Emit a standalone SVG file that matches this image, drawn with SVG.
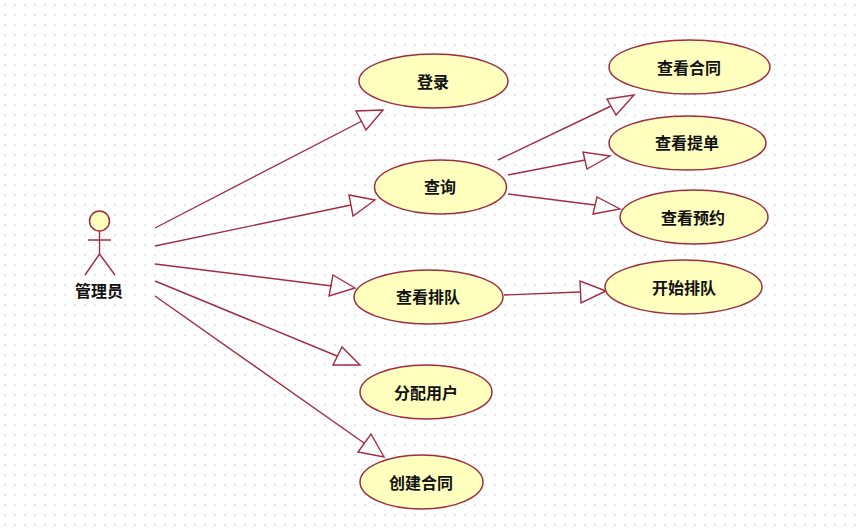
<svg xmlns="http://www.w3.org/2000/svg" width="862" height="531" viewBox="0 0 862 531">
<style>
.u{fill:#ffffbe;stroke:#a02c40;stroke-width:1.5}
.l{fill:none;stroke:#a02c40;stroke-width:1.4}
.h{fill:none;stroke:#a02c40;stroke-width:1.4;stroke-linejoin:miter}
text{font-family:"Noto Sans CJK SC",sans-serif;font-size:16px;font-weight:700;fill:#111;text-anchor:middle}
</style>
<defs>
<pattern id="grid" width="10" height="10" patternUnits="userSpaceOnUse">
<rect x="4" y="4" width="2" height="2" fill="#e6e6e6"/>
</pattern>
</defs>
<rect width="862" height="531" fill="#fff"/>
<rect width="862" height="531" fill="url(#grid)"/>
<g id="connectors">
<path class="l" d="M155 228L362 121"/><polygon class="h" points="383,110 356,111 366,130"/>
<path class="l" d="M155 246L351 205"/><polygon class="h" points="375,200 349,195 353,216"/>
<path class="l" d="M155 264L332 286"/><polygon class="h" points="355,288 333,275 329,296"/>
<path class="l" d="M155 281L337 356"/><polygon class="h" points="360,365 342,347 333,365"/>
<path class="l" d="M155 296L364 443"/><polygon class="h" points="384,457 371,434 358,452"/>
<path class="l" d="M498 160L611 106"/><polygon class="h" points="634,95 607,99 616,115"/>
<path class="l" d="M508 175L585 160"/><polygon class="h" points="610,156 583,152 587,169"/>
<path class="l" d="M508 194L595 205"/><polygon class="h" points="620,209 597,197 593,214"/>
<path class="l" d="M504 295L580 292"/><polygon class="h" points="606,291 580,281 581,303"/>
</g>
<g id="actor">
<circle class="u" cx="99.5" cy="221" r="10"/>
<path class="l" d="M99.5 231V254M88 240H111M99.5 254L85 275M99.5 254L115 275"/>
<text x="99" y="297">管理员</text>
</g>
<g id="login"><ellipse class="u" cx="433.5" cy="81" rx="74.5" ry="27"/><text x="433" y="88">登录</text></g>
<g id="query"><ellipse class="u" cx="440.5" cy="187" rx="66" ry="27"/><text x="440" y="193">查询</text></g>
<g id="contract"><ellipse class="u" cx="689.5" cy="67" rx="80.5" ry="27"/><text x="689" y="74">查看合同</text></g>
<g id="bill"><ellipse class="u" cx="687.5" cy="143" rx="78.5" ry="27"/><text x="687" y="149">查看提单</text></g>
<g id="booking"><ellipse class="u" cx="694" cy="217" rx="74" ry="27"/><text x="693" y="224">查看预约</text></g>
<g id="start"><ellipse class="u" cx="683.5" cy="287" rx="78.5" ry="27"/><text x="684" y="294">开始排队</text></g>
<g id="queue"><ellipse class="u" cx="428.5" cy="297" rx="74.5" ry="27"/><text x="428" y="303">查看排队</text></g>
<g id="assign"><ellipse class="u" cx="426" cy="392" rx="66" ry="27"/><text x="426" y="399">分配用户</text></g>
<g id="create"><ellipse class="u" cx="421.5" cy="482" rx="61.5" ry="27"/><text x="421" y="489">创建合同</text></g>
</svg>
